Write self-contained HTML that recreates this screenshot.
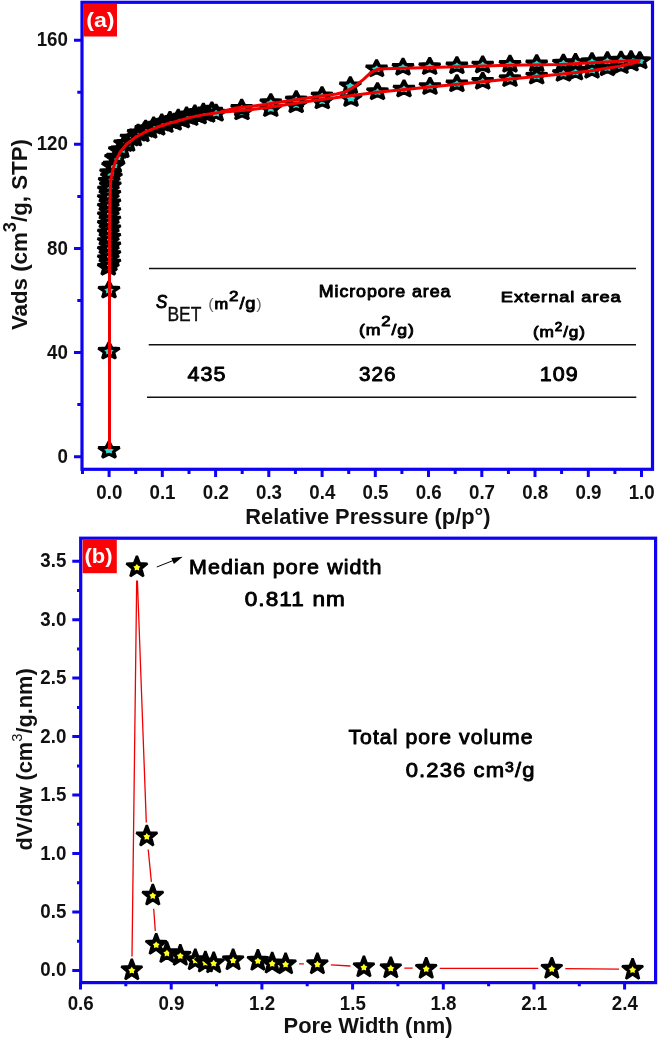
<!DOCTYPE html>
<html><head><meta charset="utf-8"><title>Figure</title>
<style>
html,body{margin:0;padding:0;background:#fff}
svg{display:block}
text{font-family:"Liberation Sans",sans-serif;fill:#111}
.c{fill:#000;stroke:#000;stroke-width:.9px;stroke-linejoin:round;letter-spacing:.05em}
</style></head><body>
<svg width="658" height="1039" viewBox="0 0 658 1039">
<rect width="658" height="1039" fill="#fff"/>
<defs>
<g id="sa"><polygon points="0.0,-8.6 3.0,-2.9 10.7,-2.5 4.8,1.5 6.6,7.5 0.0,4.3 -6.6,7.5 -4.8,1.5 -10.7,-2.5 -3.0,-2.9" fill="#000" stroke="#000" stroke-width="2.8" stroke-linejoin="bevel"/><polygon points="0.0,-3.1 1.8,-1.2 4.8,-0.5 2.9,1.3 2.9,3.6 0.0,2.8 -2.9,3.6 -2.9,1.3 -4.8,-0.5 -1.8,-1.2" fill="#30d8d0"/></g>
<g id="sb"><polygon points="0.0,-11.0 2.8,-3.7 10.5,-3.3 4.5,1.7 6.5,9.3 0.0,5.0 -6.5,9.3 -4.5,1.7 -10.5,-3.3 -2.8,-3.7" fill="#000" stroke="#000" stroke-width="2.4" stroke-linejoin="bevel"/><polygon points="0.0,-3.1 1.3,-1.2 3.5,-0.5 2.1,1.3 2.2,3.6 0.0,2.8 -2.2,3.6 -2.1,1.3 -3.5,-0.5 -1.3,-1.2" fill="#ffff20"/></g>
</defs>
<rect x="82.0" y="2.3" width="570.5" height="467.0" fill="none" stroke="#0d02f2" stroke-width="3.2"/>
<path d="M74.0 456.7H82.0M77.3 404.6H82.0M74.0 352.6H82.0M77.3 300.5H82.0M74.0 248.5H82.0M77.3 196.4H82.0M74.0 144.3H82.0M77.3 92.3H82.0M74.0 40.2H82.0M82.5 469.3V474.0M109.1 469.3V477.0M135.7 469.3V474.0M162.3 469.3V477.0M189.0 469.3V474.0M215.6 469.3V477.0M242.2 469.3V474.0M268.8 469.3V477.0M295.4 469.3V474.0M322.1 469.3V477.0M348.7 469.3V474.0M375.3 469.3V477.0M401.9 469.3V474.0M428.5 469.3V477.0M455.2 469.3V474.0M481.8 469.3V477.0M508.4 469.3V474.0M535.0 469.3V477.0M561.6 469.3V474.0M588.3 469.3V477.0M614.9 469.3V474.0M641.5 469.3V477.0" stroke="#0d02f2" stroke-width="3" fill="none"/>
<g><use href="#sa" x="109.0" y="450.0"/><use href="#sa" x="109.0" y="350.8"/><use href="#sa" x="109.0" y="289.8"/><use href="#sa" x="108.3" y="267.0"/><use href="#sa" x="109.9" y="262.7"/><use href="#sa" x="108.3" y="258.4"/><use href="#sa" x="109.9" y="254.1"/><use href="#sa" x="108.3" y="249.8"/><use href="#sa" x="109.9" y="245.5"/><use href="#sa" x="108.3" y="241.2"/><use href="#sa" x="109.9" y="236.9"/><use href="#sa" x="108.3" y="232.6"/><use href="#sa" x="109.9" y="228.3"/><use href="#sa" x="108.3" y="224.0"/><use href="#sa" x="109.9" y="219.7"/><use href="#sa" x="108.3" y="215.4"/><use href="#sa" x="109.9" y="211.1"/><use href="#sa" x="108.3" y="206.8"/><use href="#sa" x="109.9" y="202.5"/><use href="#sa" x="108.3" y="198.2"/><use href="#sa" x="109.9" y="193.9"/><use href="#sa" x="108.4" y="189.6"/><use href="#sa" x="110.3" y="185.3"/><use href="#sa" x="109.2" y="181.0"/><use href="#sa" x="111.4" y="176.7"/><use href="#sa" x="110.6" y="172.4"/><use href="#sa" x="112.6" y="165.9"/><use href="#sa" x="114.0" y="164.6"/><use href="#sa" x="115.5" y="157.8"/><use href="#sa" x="117.4" y="156.7"/><use href="#sa" x="119.3" y="150.1"/><use href="#sa" x="121.8" y="149.4"/><use href="#sa" x="124.6" y="143.3"/><use href="#sa" x="127.6" y="143.1"/><use href="#sa" x="131.0" y="137.7"/><use href="#sa" x="134.4" y="137.8"/><use href="#sa" x="138.1" y="132.9"/><use href="#sa" x="141.9" y="133.6"/><use href="#sa" x="145.7" y="128.9"/><use href="#sa" x="149.7" y="130.1"/><use href="#sa" x="153.7" y="125.7"/><use href="#sa" x="157.7" y="127.0"/><use href="#sa" x="161.8" y="122.8"/><use href="#sa" x="165.9" y="124.3"/><use href="#sa" x="170.0" y="120.2"/><use href="#sa" x="174.2" y="122.0"/><use href="#sa" x="178.3" y="118.1"/><use href="#sa" x="182.4" y="119.7"/><use href="#sa" x="186.6" y="115.7"/><use href="#sa" x="190.7" y="117.3"/><use href="#sa" x="194.9" y="113.7"/><use href="#sa" x="199.1" y="115.7"/><use href="#sa" x="203.4" y="112.0"/><use href="#sa" x="207.6" y="114.1"/><use href="#sa" x="211.9" y="110.7"/><use href="#sa" x="216.1" y="112.9"/><use href="#sa" x="242.0" y="111.6"/><use href="#sa" x="270.8" y="108.3"/><use href="#sa" x="296.2" y="104.4"/><use href="#sa" x="322.3" y="100.6"/><use href="#sa" x="351.0" y="98.2"/><use href="#sa" x="377.5" y="91.4"/><use href="#sa" x="404.0" y="88.7"/><use href="#sa" x="430.0" y="86.2"/><use href="#sa" x="456.9" y="83.5"/><use href="#sa" x="482.7" y="81.0"/><use href="#sa" x="510.0" y="78.3"/><use href="#sa" x="536.7" y="75.8"/><use href="#sa" x="563.4" y="73.1"/><use href="#sa" x="575.5" y="71.8"/><use href="#sa" x="592.0" y="69.9"/><use href="#sa" x="607.4" y="67.4"/><use href="#sa" x="621.0" y="65.3"/><use href="#sa" x="631.0" y="62.8"/><use href="#sa" x="639.8" y="60.4"/><use href="#sa" x="631.0" y="59.5"/><use href="#sa" x="621.0" y="59.9"/><use href="#sa" x="607.4" y="60.6"/><use href="#sa" x="592.0" y="61.4"/><use href="#sa" x="575.5" y="62.3"/><use href="#sa" x="563.4" y="62.9"/><use href="#sa" x="536.7" y="63.5"/><use href="#sa" x="510.0" y="64.0"/><use href="#sa" x="482.7" y="64.7"/><use href="#sa" x="456.9" y="65.5"/><use href="#sa" x="429.7" y="66.3"/><use href="#sa" x="403.0" y="67.0"/><use href="#sa" x="376.6" y="68.5"/><use href="#sa" x="350.3" y="85.5"/><use href="#sa" x="322.0" y="95.6"/><use href="#sa" x="296.2" y="99.6"/><use href="#sa" x="270.8" y="102.4"/><use href="#sa" x="241.7" y="108.0"/></g>
<polyline points="109.5,449.2 109.5,350.0 109.5,289.5 109.5,272.0 109.6,230.0 109.9,200.0 110.7,180.0 113.1,168.6 116.1,160.1 120.4,151.6 126.5,144.3 135.0,137.6 144.7,132.2 156.9,127.3 170.0,123.0 175.2,121.8 190.4,117.4 205.6,114.4 220.8,112.2 236.0,111.0 251.2,109.6 271.3,107.0 295.6,103.3 321.4,99.5 350.5,95.7 377.0,92.2 440.0,86.0 500.0,80.1 560.0,74.3 590.0,71.0 605.0,68.6 620.0,66.3 631.5,63.5 639.5,61.2" fill="none" stroke="#f00000" stroke-width="3.0" stroke-linejoin="round"/>
<polyline points="640.4,60.6 634.5,60.6 605.0,62.0 560.0,64.4 500.0,65.5 440.0,67.3 385.0,68.8 377.0,69.6 371.0,72.3 363.8,79.2 354.7,86.5 345.6,91.8 336.5,94.0 321.4,96.0 295.6,99.8 271.3,103.6 251.2,106.3 236.0,108.0 226.0,110.5 220.8,112.0" fill="none" stroke="#f00000" stroke-width="3.0" stroke-linejoin="round"/>
<rect x="83.2" y="3.8" width="33.8" height="32.7" fill="#fa0307"/>
<text transform="translate(67.9,462.7) scale(0.9,1)" font-size="20.8" font-weight="700" text-anchor="end">0</text>
<text transform="translate(67.9,358.6) scale(0.9,1)" font-size="20.8" font-weight="700" text-anchor="end">40</text>
<text transform="translate(67.9,254.5) scale(0.9,1)" font-size="20.8" font-weight="700" text-anchor="end">80</text>
<text transform="translate(67.9,150.3) scale(0.9,1)" font-size="20.8" font-weight="700" text-anchor="end">120</text>
<text transform="translate(67.9,46.2) scale(0.9,1)" font-size="20.8" font-weight="700" text-anchor="end">160</text>
<text transform="translate(109.3,498.8) scale(0.9,1)" font-size="20.8" font-weight="700" text-anchor="middle">0.0</text>
<text transform="translate(162.5,498.8) scale(0.9,1)" font-size="20.8" font-weight="700" text-anchor="middle">0.1</text>
<text transform="translate(215.8,498.8) scale(0.9,1)" font-size="20.8" font-weight="700" text-anchor="middle">0.2</text>
<text transform="translate(269.0,498.8) scale(0.9,1)" font-size="20.8" font-weight="700" text-anchor="middle">0.3</text>
<text transform="translate(322.3,498.8) scale(0.9,1)" font-size="20.8" font-weight="700" text-anchor="middle">0.4</text>
<text transform="translate(375.5,498.8) scale(0.9,1)" font-size="20.8" font-weight="700" text-anchor="middle">0.5</text>
<text transform="translate(428.7,498.8) scale(0.9,1)" font-size="20.8" font-weight="700" text-anchor="middle">0.6</text>
<text transform="translate(482.0,498.8) scale(0.9,1)" font-size="20.8" font-weight="700" text-anchor="middle">0.7</text>
<text transform="translate(535.2,498.8) scale(0.9,1)" font-size="20.8" font-weight="700" text-anchor="middle">0.8</text>
<text transform="translate(588.5,498.8) scale(0.9,1)" font-size="20.8" font-weight="700" text-anchor="middle">0.9</text>
<text transform="translate(641.7,498.8) scale(0.9,1)" font-size="20.8" font-weight="700" text-anchor="middle">1.0</text>
<path d="M149 268.4H636M148.7 344.7H636M147 397.3H636.3" stroke="#111" stroke-width="1.5" fill="none"/>
<rect x="80.7" y="538.2" width="574.9" height="444.4" fill="none" stroke="#0d02f2" stroke-width="3.2"/>
<path d="M72.3 970.5H80.7M77.0 941.3H80.7M72.3 912.0H80.7M77.0 882.8H80.7M72.3 853.6H80.7M77.0 824.3H80.7M72.3 795.1H80.7M77.0 765.9H80.7M72.3 736.6H80.7M77.0 707.4H80.7M72.3 678.1H80.7M77.0 648.9H80.7M72.3 619.7H80.7M77.0 590.4H80.7M72.3 561.2H80.7M80.5 982.6V989.6M125.8 982.6V986.3M171.2 982.6V989.6M216.5 982.6V986.3M261.9 982.6V989.6M307.2 982.6V986.3M352.6 982.6V989.6M397.9 982.6V986.3M443.3 982.6V989.6M488.6 982.6V986.3M534.0 982.6V989.6M579.3 982.6V986.3M624.6 982.6V989.6" stroke="#0d02f2" stroke-width="3" fill="none"/>
<path d="M132.0 956.4L136.7 580.5M137.4 580.5L146.3 822.6M148.2 849.5L151.4 881.9M153.7 908.8L155.3 931.0M299.1 963.9L303.9 963.9M330.9 964.8L350.4 966.0M404.3 968.1L412.7 968.2M439.7 968.4L538.3 968.4M565.3 968.6L619.1 969.2" stroke="#f00000" stroke-width="1.3" fill="none"/>
<g><use href="#sb" x="131.8" y="969.9"/><use href="#sb" x="136.9" y="567.0"/><use href="#sb" x="146.8" y="836.1"/><use href="#sb" x="152.8" y="895.3"/><use href="#sb" x="156.2" y="944.5"/><use href="#sb" x="166.9" y="952.8"/><use href="#sb" x="180.3" y="955.5"/><use href="#sb" x="195.3" y="959.9"/><use href="#sb" x="205.4" y="962.2"/><use href="#sb" x="213.7" y="962.9"/><use href="#sb" x="233.1" y="959.9"/><use href="#sb" x="257.9" y="960.5"/><use href="#sb" x="272.2" y="963.2"/><use href="#sb" x="285.6" y="963.9"/><use href="#sb" x="317.4" y="963.9"/><use href="#sb" x="363.9" y="966.9"/><use href="#sb" x="390.8" y="967.9"/><use href="#sb" x="426.2" y="968.4"/><use href="#sb" x="551.8" y="968.4"/><use href="#sb" x="632.6" y="969.4"/></g>
<rect x="82.6" y="539.6" width="34.2" height="33.6" fill="#fa0307"/>
<text transform="translate(66.3,976.4) scale(0.9,1)" font-size="20.8" font-weight="700" text-anchor="end">0.0</text>
<text transform="translate(66.3,917.9) scale(0.9,1)" font-size="20.8" font-weight="700" text-anchor="end">0.5</text>
<text transform="translate(66.3,859.5) scale(0.9,1)" font-size="20.8" font-weight="700" text-anchor="end">1.0</text>
<text transform="translate(66.3,801.0) scale(0.9,1)" font-size="20.8" font-weight="700" text-anchor="end">1.5</text>
<text transform="translate(66.3,742.5) scale(0.9,1)" font-size="20.8" font-weight="700" text-anchor="end">2.0</text>
<text transform="translate(66.3,684.0) scale(0.9,1)" font-size="20.8" font-weight="700" text-anchor="end">2.5</text>
<text transform="translate(66.3,625.6) scale(0.9,1)" font-size="20.8" font-weight="700" text-anchor="end">3.0</text>
<text transform="translate(66.3,567.1) scale(0.9,1)" font-size="20.8" font-weight="700" text-anchor="end">3.5</text>
<text transform="translate(80.7,1010.1) scale(0.9,1)" font-size="20.8" font-weight="700" text-anchor="middle">0.6</text>
<text transform="translate(171.4,1010.1) scale(0.9,1)" font-size="20.8" font-weight="700" text-anchor="middle">0.9</text>
<text transform="translate(262.1,1010.1) scale(0.9,1)" font-size="20.8" font-weight="700" text-anchor="middle">1.2</text>
<text transform="translate(352.8,1010.1) scale(0.9,1)" font-size="20.8" font-weight="700" text-anchor="middle">1.5</text>
<text transform="translate(443.5,1010.1) scale(0.9,1)" font-size="20.8" font-weight="700" text-anchor="middle">1.8</text>
<text transform="translate(534.2,1010.1) scale(0.9,1)" font-size="20.8" font-weight="700" text-anchor="middle">2.1</text>
<text transform="translate(624.8,1010.1) scale(0.9,1)" font-size="20.8" font-weight="700" text-anchor="middle">2.4</text>
<path d="M156.8 567L174 560.2" stroke="#000" stroke-width="1" fill="none"/><path d="M182.7 556.8L171.3 557.9L173.9 563.9Z" fill="#000"/>
<text transform="translate(86.24,26.60) scale(1.1048,1)" font-size="21.00" font-weight="700" style="fill:#fff">(a)</text>
<text transform="translate(84.50,563.00) scale(1.0456,1)" font-size="21.00" font-weight="700" style="fill:#fff">(b)</text>
<text transform="translate(245.36,524.30) scale(0.9920,1)" font-size="22.00" font-weight="700">Relative Pressure (p/p°)</text>
<text transform="translate(283.56,1032.60) scale(0.9964,1)" font-size="22.00" font-weight="700">Pore Width (nm)</text>
<text transform="translate(26.60,330.10) rotate(-90) scale(1.0229,1)" font-size="21.80" font-weight="700">Vads (cm<tspan dy="-0.598em" font-size="0.82em">3</tspan><tspan dy="0.49em">/g, STP)</tspan></text>
<text transform="translate(31.90,850.59) rotate(-90) scale(0.9989,1)" font-size="21.80" font-weight="700">dV/dw (cm<tspan dy="-0.691em" font-size="0.68em" font-weight="400">3</tspan><tspan dy="0.47em">/g.nm)</tspan></text>
<text transform="translate(155.90,308.26) scale(0.9596,1)" font-size="17.60" class="c" font-style="italic">S</text>
<text transform="translate(167.39,321.40) scale(0.8668,1)" font-size="20.14" style="stroke:#000;stroke-width:.35px">BET</text>
<text transform="translate(208.28,308.70) scale(1.1090,1)" font-size="14.80" class="c"><tspan style="stroke:none;fill:#666">(</tspan>m<tspan dy="-0.510em" font-size="1.04em">2</tspan><tspan dy="0.53em"><tspan font-size="1.12em">/g</tspan></tspan><tspan style="stroke:none;fill:#666">)</tspan></text>
<text transform="translate(318.81,297.31) scale(1.0893,1)" font-size="16.40" class="c">Micropore area</text>
<text transform="translate(358.92,334.60) scale(1.1635,1)" font-size="15.20" class="c">(m<tspan dy="-0.579em" font-size="0.95em">2</tspan><tspan dy="0.55em">/g)</tspan></text>
<text transform="translate(500.78,302.42) scale(1.2119,1)" font-size="15.13" class="c">External area</text>
<text transform="translate(532.94,336.90) scale(1.1359,1)" font-size="15.20" class="c">(m<tspan dy="-0.513em" font-size="0.78em">2</tspan><tspan dy="0.4em">/g)</tspan></text>
<text transform="translate(187.40,381.11) scale(1.0962,1)" font-size="19.60" class="c">435</text>
<text transform="translate(358.88,381.21) scale(1.0529,1)" font-size="19.60" class="c">326</text>
<text transform="translate(539.83,381.31) scale(1.0880,1)" font-size="19.73" class="c">109</text>
<text transform="translate(188.93,573.60) scale(1.0431,1)" font-size="20.60" class="c">Median pore width</text>
<text transform="translate(244.64,606.40) scale(1.1205,1)" font-size="20.13" class="c">0.811 nm</text>
<text transform="translate(348.40,744.40) scale(1.0291,1)" font-size="20.60" class="c">Total pore volume</text>
<text transform="translate(405.75,777.30) scale(1.0489,1)" font-size="21.00" class="c">0.236 cm<tspan dy="-0.375em" font-size="0.72em">3</tspan><tspan dy="0.27em">/g</tspan></text>
</svg>
</body></html>
